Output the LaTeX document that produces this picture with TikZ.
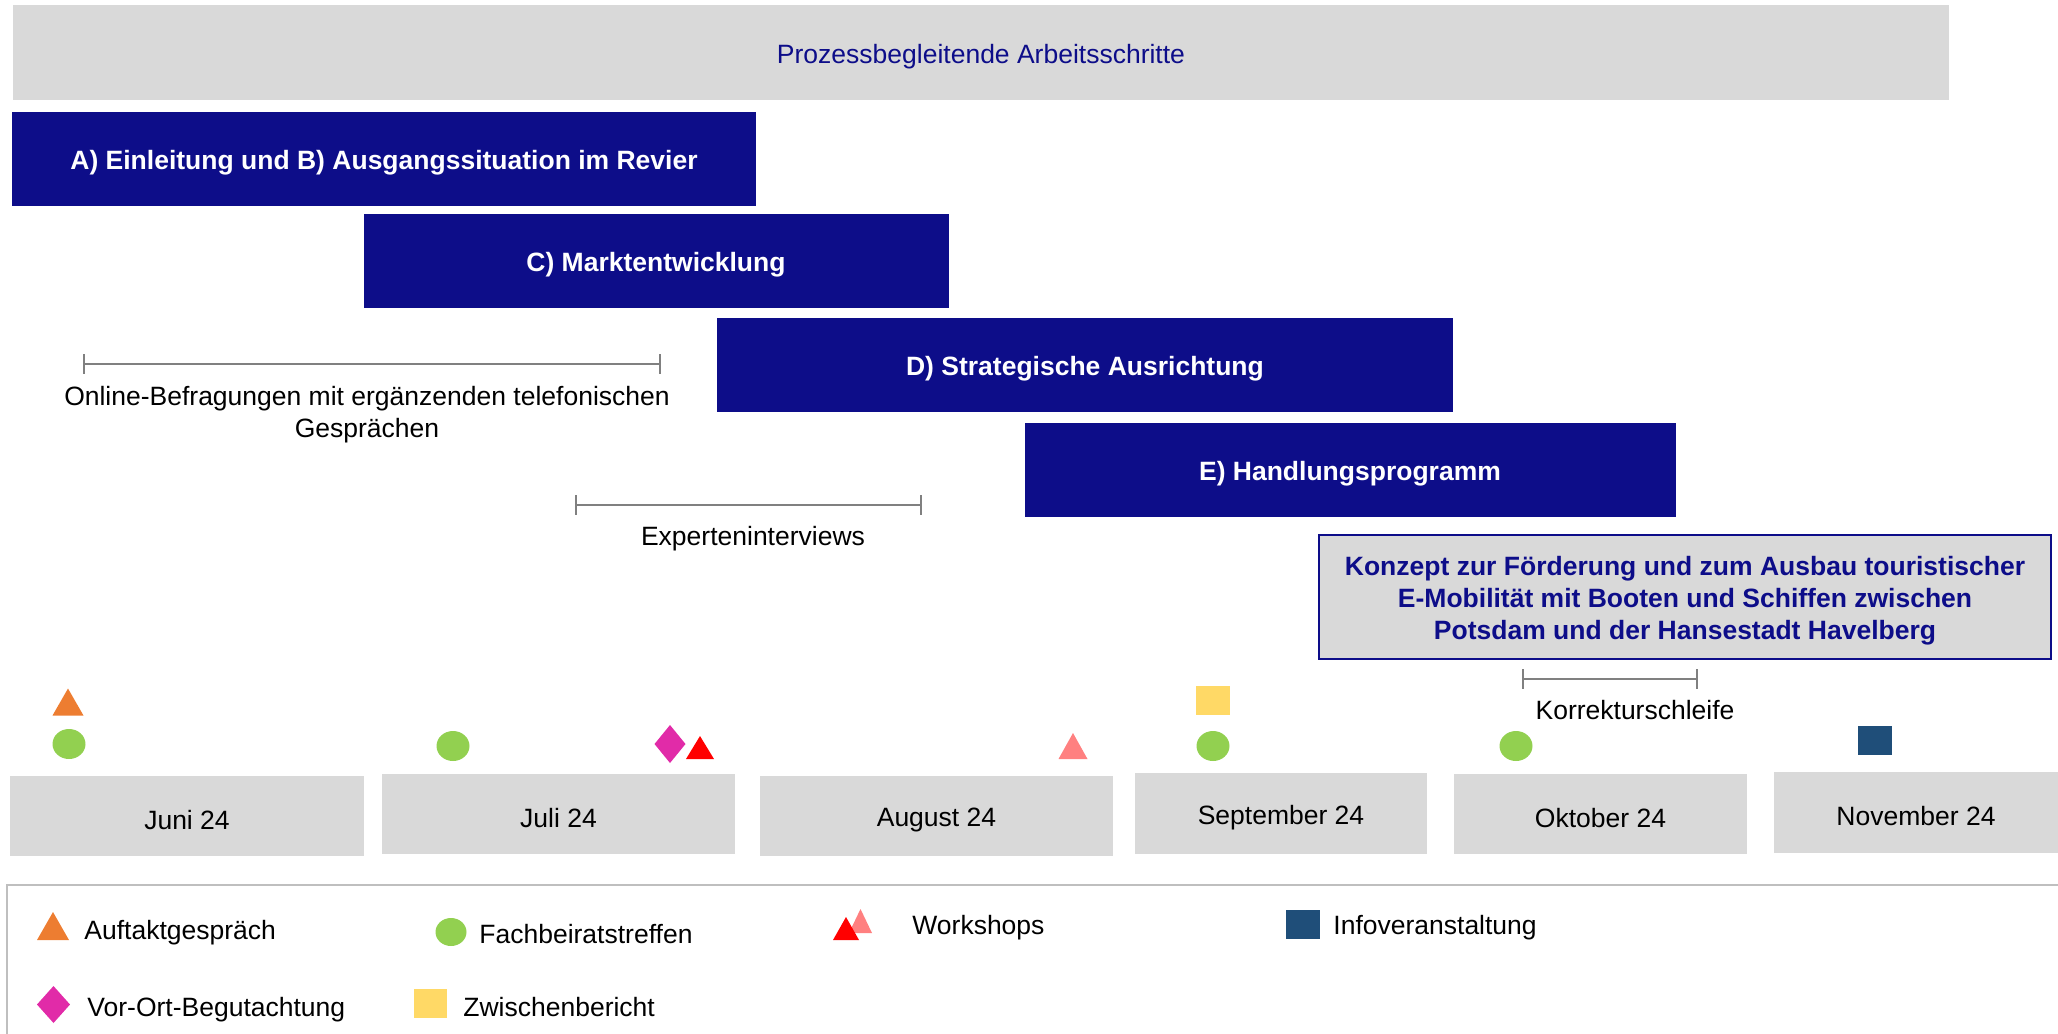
\documentclass[tikz,border=0pt]{standalone}
\usepackage{fontspec}
\setmainfont{Liberation Sans}
\usetikzlibrary{calc}
\definecolor{navy}{RGB}{13,13,137}
\definecolor{boxgray}{RGB}{217,217,217}
\definecolor{mk-orange}{RGB}{237,125,49}
\definecolor{mk-green}{RGB}{146,208,80}
\definecolor{mk-magenta}{RGB}{225,43,168}
\definecolor{mk-red}{RGB}{255,0,0}
\definecolor{mk-pink}{RGB}{255,128,128}
\definecolor{mk-yellow}{RGB}{255,217,102}
\definecolor{mk-blue}{RGB}{31,78,121}
\definecolor{tick-gray}{RGB}{128,128,128}
\definecolor{rule-gray}{RGB}{191,191,191}
\tikzset{
  every node/.style={font=\fontsize{13.25}{16}\selectfont, inner sep=0pt},
  phase/.style={fill=navy},
  phasetext/.style={text=white, font=\fontsize{13.25}{16}\selectfont\bfseries},
  span/.style={draw=tick-gray, line width=1pt},
}
\newcommand{\spot}[2]{\coordinate (#1) at (#2);}
\newcommand{\mtri}[4]{\fill[#1] (#2) ++(-#3/2,#4/2) -- ++(#3,0) -- ++(-#3/2,-#4) -- cycle;}
\newcommand{\mdot}[4]{\fill[#1] (#2) ellipse [x radius=#3*0.25pt, y radius=#4*0.25pt];}
\newcommand{\mdia}[4]{\fill[#1] (#2) ++(0,-#4/2) -- ++(#3/2,#4/2) -- ++(-#3/2,#4/2) -- ++(-#3/2,-#4/2) -- cycle;}
\newcommand{\msq}[4]{\fill[#1] (#2) ++(-#3/2,-#4/2) rectangle ++(#3,#4);}
\newcommand{\spanbar}[3]{\draw[span] (#1,#3-10) -- (#1,#3+10) (#1,#3) -- (#2,#3) (#2,#3-10) -- (#2,#3+10);}
\newcommand{\monthbox}[6]{\fill[boxgray] (#2,#3) rectangle (#4,#5);
  \node (#1) at ($(#2,#3)!0.5!(#4,#5)+(0,4)$) {#6};}

\begin{document}
\begin{tikzpicture}[x=0.5pt,y=-0.5pt]
  \useasboundingbox (0,0) rectangle (2058,1034);
  % top bar
  \fill[boxgray] (13,5) rectangle (1949,100);
  \node[text=navy] (proc) at (981,57) {Prozessbegleitende Arbeitsschritte};
  % phases
  \fill[phase] (12,112) rectangle (756,206);
  \node[phasetext] (pa) at (384,163) {A) Einleitung und B) Ausgangssituation im Revier};
  \fill[phase] (364,214) rectangle (949,308);
  \node[phasetext] (pc) at (656,265) {C) Marktentwicklung};
  \fill[phase] (717,318) rectangle (1453,412);
  \node[phasetext] (pd) at (1085,369) {D) Strategische Ausrichtung};
  \fill[phase] (1025,423) rectangle (1676,517);
  \node[phasetext] (pe) at (1350,474) {E) Handlungsprogramm};
  % result
  \filldraw[fill=boxgray, draw=navy, line width=1pt] (1319,535) rectangle (2051,659);
  \node[phasetext, text=navy, align=center] (konzept) at (1685,601)
    {Konzept zur Förderung und zum Ausbau touristischer\\E-Mobilität mit Booten und Schiffen zwischen\\Potsdam und der Hansestadt Havelberg};
  % spans
  \spanbar{84}{660}{364}
  \node[align=center] (online) at (367,415) {Online-Befragungen mit ergänzenden telefonischen\\Gesprächen};
  \spanbar{576}{921}{505}
  \node (experten) at (753,539) {Experteninterviews};
  \spanbar{1523}{1697}{679}
  \node (korrektur) at (1635,710) {Korrekturschleife};
  % months
  \monthbox{juni}{10}{776}{364}{856}{Juni 24}
  \monthbox{juli}{382}{774}{735}{854}{Juli 24}
  \monthbox{aug}{760}{776}{1113}{856}{August 24}
  \monthbox{sep}{1135}{773}{1427}{854}{September 24}
  \monthbox{okt}{1454}{774}{1747}{854}{Oktober 24}
  \monthbox{nov}{1774}{772}{2058}{853}{November 24}
  % events
  \spot{kick}{68,702}
  \spot{fb1}{69,744}
  \spot{fb2}{453,746}
  \spot{vo}{670,744}
  \spot{ws1}{700,747.5}
  \spot{ws2}{1073,746}
  \spot{zb}{1213,700}
  \spot{fb3}{1213,746}
  \spot{fb4}{1516,746}
  \spot{info}{1875,740}
  \mtri{mk-orange}{kick}{31}{27}
  \mdot{mk-green}{fb1}{33}{30}
  \mdot{mk-green}{fb2}{33}{30}
  \mdia{mk-magenta}{vo}{31}{38}
  \mtri{mk-red}{ws1}{28}{23}
  \mtri{mk-pink}{ws2}{29}{26}
  \msq{mk-yellow}{zb}{34}{29}
  \mdot{mk-green}{fb3}{33}{30}
  \mdot{mk-green}{fb4}{33}{30}
  \msq{mk-blue}{info}{34}{29}
  % legend
  \draw[rule-gray, line width=0.75pt] (7,1034) -- (7,885) -- (2058,885);
  \spot{lg-kick}{53,926}
  \spot{lg-fb}{451,932}
  \spot{lg-ws1}{860.5,921}
  \spot{lg-ws2}{846,928.5}
  \spot{lg-info}{1303,924.5}
  \spot{lg-vo}{53.5,1004.5}
  \spot{lg-zb}{430.5,1003.5}
  \mtri{mk-orange}{lg-kick}{32}{28}
  \mdot{mk-green}{lg-fb}{31}{28}
  \mtri{mk-pink}{lg-ws1}{23}{24}
  \mtri{mk-red}{lg-ws2}{26}{23}
  \msq{mk-blue}{lg-info}{34}{29}
  \mdia{mk-magenta}{lg-vo}{33}{37}
  \msq{mk-yellow}{lg-zb}{33}{29}
  \node[anchor=west] (t-kick) at (84,933) {Auftaktgespräch};
  \node[anchor=west] (t-fb) at (479,934) {Fachbeiratstreffen};
  \node[anchor=west] (t-ws) at (912,928) {Workshops};
  \node[anchor=west] (t-info) at (1333,928) {Infoveranstaltung};
  \node[anchor=west] (t-vo) at (87,1010) {Vor-Ort-Begutachtung};
  \node[anchor=west] (t-zb) at (463,1007) {Zwischenbericht};
\end{tikzpicture}
\end{document}
